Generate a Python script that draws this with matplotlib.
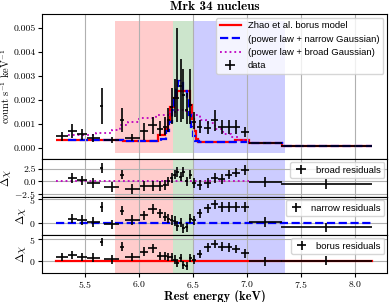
import numpy as np
import matplotlib
matplotlib.use("Agg")
from matplotlib import pyplot as plt

plt.rcParams['mathtext.fontset'] = 'cm'
plt.rcParams['font.family'] = 'cmr10'
plt.rcParams['axes.formatter.use_mathtext'] = True
plt.rcParams['axes.unicode_minus'] = True

# spectral bins (rest energy, keV) and half widths
energy = [5.287, 5.38, 5.466, 5.574, 5.651, 5.744, 5.843, 5.935, 6.046, 6.125,
          6.195, 6.24, 6.27, 6.30, 6.33, 6.355, 6.385, 6.41, 6.44, 6.475,
          6.51, 6.56, 6.635, 6.70, 6.765, 6.83, 6.90, 6.98, 7.17, 7.735]
half_width = [0.054, 0.04, 0.046, 0.062, 0.012, 0.07, 0.02, 0.07, 0.035, 0.04,
              0.03, 0.015, 0.012, 0.015, 0.013, 0.012, 0.015, 0.012, 0.015, 0.015,
              0.018, 0.025, 0.03, 0.03, 0.03, 0.035, 0.035, 0.04, 0.15, 0.42]

# count rate (count s^-1 keV^-1) with lower / upper errors
rate = [0.00050, 0.00072, 0.00058, 0.00042, 0.00176, 0.00033, 0.00116, 0.00044, 0.00070, 0.00095,
        0.00082, 0.00088, 0.00116, 0.0017, 0.0021, 0.0021, 0.0026, 0.0022, 0.0016, 0.0018,
        0.0011, 0.00088, 0.00084, 0.00116, 0.00088, 0.00088, 0.00088, 0.00068, 0.00022, 0.00011]
rate_lo = [0.00019, 0.00028, 0.00024, 0.00015, 0.00075, 0.00012, 0.00048, 0.00014, 0.00035, 0.00035,
           0.0003, 0.00035, 0.0005, 0.0007, 0.0008, 0.0010, 0.0015, 0.0010, 0.0006, 0.0008,
           0.0003, 0.00025, 0.00025, 0.00045, 0.0003, 0.0003, 0.0003, 0.0002, 0.00004, 0.00002]
rate_hi = [0.00019, 0.0003, 0.00024, 0.00015, 0.00075, 0.00012, 0.0005, 0.00014, 0.00035, 0.00035,
           0.0003, 0.0004, 0.0005, 0.0008, 0.0008, 0.0029, 0.0011, 0.0011, 0.0007, 0.0015,
           0.0004, 0.0003, 0.0003, 0.00045, 0.0003, 0.0003, 0.0003, 0.0002, 0.00004, 0.00002]

# residuals (delta chi) for each model
res_broad = [np.nan, 0.7, 0.2, -0.3, 2.7, -1.1, 1.4, -1.6, -1.0, -1.0,
             -1.0, -0.7, 0.0, 0.7, 1.4, 2.0, 1.0, 2.0, 0.0, 1.4,
             -0.3, -0.7, -0.3, 0.7, 0.5, 1.4, 1.8, 2.3, -0.1, -0.5]
res_narrow = [np.nan, 0.9, 0.6, 0.2, 3.4, -0.3, 2.6, 0.6, 1.6, 2.9,
              2.0, 1.3, 0.9, 0.6, 0.4, -0.7, 0.0, -1.2, -1.0, 0.9,
              0.5, 2.0, 3.1, 3.9, 3.4, 3.4, 3.4, 3.4, 0.2, -1.0]
res_borus = [0.8, 1.3, 0.9, 0.7, 4.4, 0.3, 3.3, 0.9, 2.1, 2.9,
             1.1, 1.1, 0.9, 0.8, 0.2, -0.6, 0.6, -1.0, -1.3, 0.6,
             0.2, 1.6, 3.1, 3.9, 3.3, 3.1, 2.7, 1.7, -0.2, 0.0]

# folded models (step functions)
borus_edges = [5.23, 5.58, 5.85, 6.17, 6.24, 6.27, 6.29, 6.32, 6.35, 6.47, 6.49, 6.51, 6.53,
               6.545, 6.885, 7.02, 7.32, 8.16]
borus_vals = [0.00036, 0.00034, 0.00031, 0.00054, 0.00082, 0.00116, 0.0017, 0.0021, 0.0024,
              0.0018, 0.0012, 0.0007, 0.0004, 0.00026, 0.00036, 0.0002, 0.0001]
narrow_edges = [5.34, 5.58, 5.85, 6.20, 6.25, 6.28, 6.30, 6.32, 6.34, 6.36, 6.38, 6.41, 6.44,
                6.46, 6.48, 6.50, 6.52, 6.55, 7.02, 7.32, 8.16]
narrow_vals = [0.00035, 0.00033, 0.00031, 0.0004, 0.0007, 0.0011, 0.0016, 0.0021, 0.0026,
               0.0028, 0.0027, 0.0024, 0.0020, 0.0014, 0.0009, 0.0005, 0.0003, 0.00025,
               0.0002, 0.0001]
broad_edges = [5.34, 5.45, 5.60, 5.75, 5.82, 5.90, 6.00, 6.16, 6.28, 6.33, 6.43, 6.47, 6.50,
               6.56, 6.62, 6.70, 6.78, 6.85, 6.92, 7.02]
broad_vals = [0.00054, 0.00056, 0.00062, 0.00075, 0.00095, 0.0011, 0.00124, 0.00137, 0.0015,
              0.0016, 0.00155, 0.0015, 0.00137, 0.00116, 0.00104, 0.00082, 0.0006, 0.00047,
              0.00033]

# shaded energy bands
bands = [(5.78, 6.31, 'red'), (6.31, 6.51, 'green'), (6.51, 7.355, 'blue')]

leg_font = {'family': 'Liberation Sans', 'size': 6.8}

fig, axes = plt.subplots(4, 1, sharex=True, figsize=(3.9, 3.02), dpi=100,
                         gridspec_kw={'height_ratios': [145, 38, 38, 38], 'hspace': 0})
fig.subplots_adjust(left=0.108, right=0.993, top=0.954, bottom=0.096)
ax, axb, axn, axr = axes

# main spectrum
for lo, hi, c in bands:
    ax.fill_between([lo, hi], -0.0002, 0.0053, color=c, alpha=0.2, lw=0)
ax.stairs(borus_vals, borus_edges, baseline=None, color='red', lw=1.6,
          label='Zhao et al. borus model')
ax.stairs(narrow_vals, narrow_edges, baseline=None, color='blue', lw=1.6, ls='--',
          label='(power law + narrow Gaussian)')
ax.stairs(broad_vals, broad_edges, baseline=None, color='m', lw=1.3, ls=':',
          label='(power law + broad Gaussian)')
ax.errorbar(energy, rate, xerr=half_width, yerr=[rate_lo, rate_hi], fmt='none',
            ecolor='black', elinewidth=1.2, capsize=0, label='data')
ax.set_ylim(-0.00045, 0.0056)
ax.set_yticks([0, 0.001, 0.002, 0.003, 0.004, 0.005])
ax.set_yticklabels(['0.000', '0.001', '0.002', '0.003', '0.004', '0.005'])
ax.set_ylabel(r'$\mathrm{count\ s^{-1}\ keV^{-1}}$', fontsize=7.5, labelpad=1)
ax.set_title('Mrk 34 nucleus', fontsize=9.5, family='cmb10', pad=3)
ax.grid(True, axis='x')
ax.legend(loc='upper right', prop=leg_font, handlelength=2.2, borderaxespad=0.4,
          labelspacing=0.45)

# residual panels
resid = [(axb, res_broad, 'm', ':', 'broad residuals', (-3.2, 4.6), [-2.5, 0, 2.5], 7.02),
         (axn, res_narrow, 'blue', '--', 'narrow residuals', (-2.6, 5.5), [0, 5], 8.16),
         (axr, res_borus, 'red', '-', 'borus residuals', (-2.9, 6.0), [0, 5], 8.16)]
for a, res, c, ls, lab, ylim, ticks, xend in resid:
    for lo, hi, col in bands:
        a.axvspan(lo, hi, color=col, alpha=0.2, lw=0)
    a.plot([5.23, xend], [0, 0], color=c, ls=ls, lw=1.6 if ls != ':' else 1.3)
    a.errorbar(energy, res, xerr=half_width, yerr=1.0, fmt='none', ecolor='black',
               elinewidth=1.2, capsize=0, label=lab)
    a.set_ylim(*ylim)
    a.set_yticks(ticks)
    a.set_ylabel(r'$\Delta\chi$', fontsize=8, labelpad=1)
    a.grid(True)
    a.legend(loc='upper right', prop=leg_font, borderaxespad=0.3, handlelength=1.5)

axb.set_yticklabels(['$-2.5$', '0.0', '2.5'])
axr.set_xlim(5.1, 8.3)
axr.set_xticks([5.5, 6.0, 6.5, 7.0, 7.5, 8.0])
axr.set_xlabel('Rest energy (keV)', fontsize=9, family='cmb10', labelpad=0)

for a in axes:
    a.tick_params(labelsize=7, length=3, pad=1.5)

fig.savefig('out.png', dpi=100)
